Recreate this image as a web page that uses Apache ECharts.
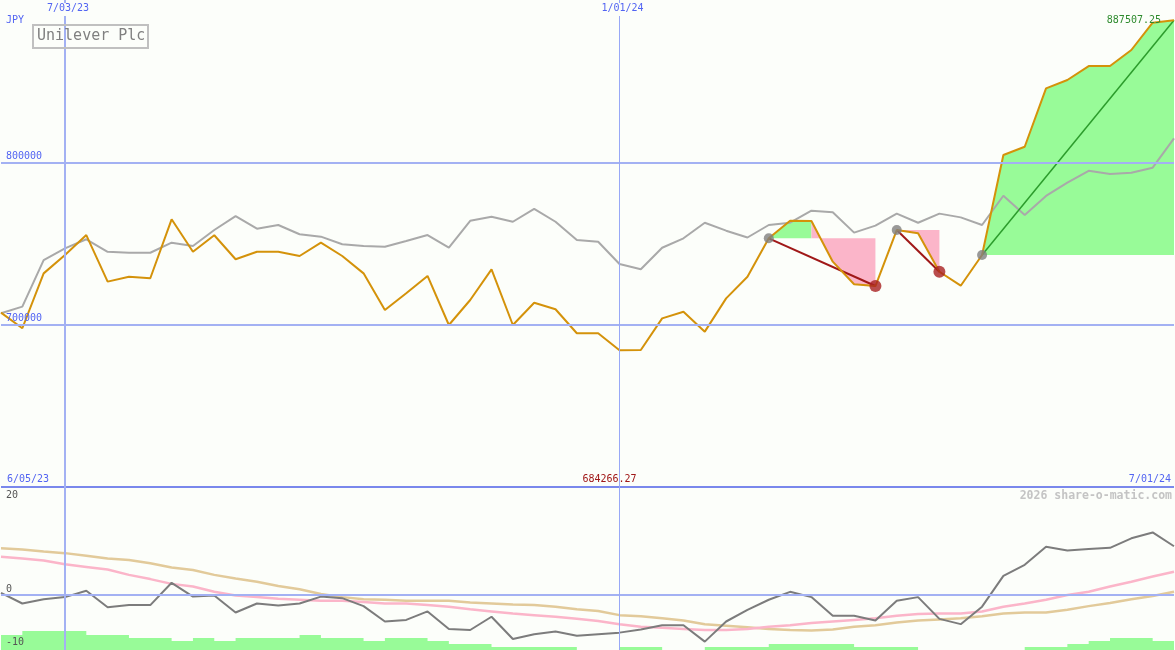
<!DOCTYPE html>
<html><head><meta charset="utf-8">
<script src="https://cdn.jsdelivr.net/npm/echarts@6/dist/echarts.min.js"></script>
<style>html,body{margin:0;padding:0;background:#fcfefa}#c{width:1175px;height:650px}</style>
</head><body><div id="c"></div>
<script>
// ---- data (weekly points, index 0..55) ----
const close = [
707400, 697800, 731600, 742900, 755200, 726500, 729500, 728600, 764900, 744900,
755100, 740300, 744900, 744900, 742300, 750500, 742300, 731600, 709000, 719300,
730000, 699800, 715200, 734100, 699800, 713500, 709500, 694700, 694700, 684266.27,
684400, 703900, 708000, 695700, 716200, 729500, 753200, 764000, 763900, 738800,
724900, 723800, 758300, 756300, 732600, 724000, 742900, 804500, 809600, 845600,
850700, 859300, 859300, 869200, 886000, 887507.25];
const trend = [
707000, 711100, 739800, 747000, 752600, 744900, 744300, 744300, 750500, 748500,
758300, 766900, 759100, 761400, 755700, 754200, 749500, 748500, 748000, 751500,
755200, 747400, 764000, 766500, 763400, 771300, 763400, 752200, 751100, 737400,
734100, 747400, 753200, 762800, 757900, 753700, 761400, 762800, 770200, 769200,
756700, 761000, 768400, 762800, 768400, 766100, 761400, 779400, 767600, 779300,
787500, 794800, 792800, 793600, 796700, 814800];
const osc = [
0.4, -1.6, -0.8, -0.4, 0.8, -2.3, -1.9, -1.9, 2.3, -0.3,
-0.1, -3.3, -1.6, -2.0, -1.6, -0.3, -0.6, -2.1, -5.0, -4.7,
-3.1, -6.4, -6.6, -4.1, -8.3, -7.4, -6.9, -7.7, -7.4, -7.1,
-6.5, -5.7, -5.7, -8.8, -5.0, -2.8, -0.9, 0.6, -0.4, -3.9,
-3.9, -4.8, -1.1, -0.4, -4.5, -5.5, -2.2, 3.6, 5.7, 9.1,
8.4, 8.7, 8.9, 10.7, 11.8, 9.2];
const maFast = [
7.2, 6.9, 6.5, 5.8, 5.3, 4.8, 3.8, 3.0, 2.1, 1.6,
0.6, -0.1, -0.4, -0.7, -0.9, -1.1, -1.1, -1.3, -1.6, -1.6,
-1.9, -2.2, -2.7, -3.1, -3.5, -3.8, -4.1, -4.5, -4.9, -5.5,
-6.0, -6.2, -6.4, -6.6, -6.6, -6.4, -6.0, -5.7, -5.3, -5.0,
-4.7, -4.4, -3.9, -3.6, -3.5, -3.5, -3.1, -2.2, -1.6, -0.9,
0.0, 0.6, 1.6, 2.5, 3.5, 4.4];
const maSlow = [
8.8, 8.6, 8.2, 7.9, 7.4, 6.9, 6.6, 6.0, 5.2, 4.7,
3.8, 3.1, 2.5, 1.7, 1.1, 0.2, -0.4, -0.8, -0.9, -1.1,
-1.1, -1.1, -1.4, -1.6, -1.8, -1.9, -2.2, -2.7, -3.0, -3.8,
-4.0, -4.4, -4.8, -5.5, -5.8, -6.1, -6.4, -6.6, -6.7, -6.5,
-6.0, -5.7, -5.2, -4.8, -4.6, -4.4, -4.0, -3.5, -3.3, -3.3,
-2.8, -2.1, -1.5, -0.8, -0.2, 0.6];
const volume = [
5, 6.3, 6.3, 6.3, 5, 5, 4, 4, 3, 4,
3, 4, 4, 4, 5, 4, 4, 3, 4, 4,
3, 2, 2, 1, 1, 1, 1, 0, 0, 1,
1, 0, 0, 1, 1, 1, 2, 2, 2, 2,
1, 1, 1, 0, 0, 0, 0, 0, 1, 1,
2, 3, 4, 4, 3, 3];
const priceTicks = [700000, 800000];
const oscTicks = [20, 0, -10];
const dateTickIdx = [3, 29];
const dateTickLabels = ['7/03/23', '1/01/24'];
const rangeStart = '6/05/23';
const rangeEnd = '7/01/24';
const currency = 'JPY';
const title = 'Unilever Plc';
const trades = [{entry: 36, exit: 41}, {entry: 42, exit: 44}, {entry: 46, exit: null}];
const fills = [
  {from: 36, to: 38, ref: 36, kind: 'gain'},
  {from: 38, to: 41, ref: 36, kind: 'loss'},
  {from: 42, to: 44, ref: 42, kind: 'loss'},
  {from: 46, to: 55, ref: 46, kind: 'gain'}];

// ---- styles ----
const BG = '#fcfefa', GRID = '#a3b1f3', SEP = '#7a88ec', BLUE = '#5264f2';
const GREEN = '#98fb98', PINK = '#fbb5c9', ORANGE = '#d4920a', GRAY = '#a9a9a9';
const MONO = "'DejaVu Sans Mono', monospace";
const N = close.length - 1;

const chart = echarts.init(document.getElementById('c'), null, {renderer: 'canvas'});

const grids = [
  {left: 1, top: 0, width: 1173, height: 487, outerBoundsMode: 'none', containLabel: false},
  {left: 1, top: 489, width: 1173, height: 159, outerBoundsMode: 'none', containLabel: false},
  {left: 1, top: 602, width: 1173, height: 48, outerBoundsMode: 'none', containLabel: false},
  {left: 1, top: 0, width: 1173, height: 650, outerBoundsMode: 'none', containLabel: false}
];
const xAxes = grids.map((g, k) => ({
  gridIndex: k, type: 'value', min: 0, max: N, show: k === 3,
  position: 'top', z: 10,
  axisLine: {show: false}, axisTick: {show: false}, splitLine: {show: false},
  axisLabel: k === 3 ? {
    inside: true, customValues: dateTickIdx, margin: 3,
    formatter: v => dateTickLabels[dateTickIdx.indexOf(v)] || '',
    color: BLUE, fontFamily: MONO, fontSize: 10,
    backgroundColor: BG, padding: [0, 0, 3, 6]
  } : {show: false}
}));
const yAxes = [
  {gridIndex: 0, type: 'value', min: 600000, max: 900000, interval: 100000, z: 10,
   axisLine: {show: false}, axisTick: {show: false}, splitLine: {show: false},
   axisLabel: {inside: true, margin: 5, color: BLUE, fontFamily: MONO, fontSize: 10, lineHeight: 12,
     verticalAlign: 'middle', formatter: v => priceTicks.includes(v) ? v + '\n' : ''}},
  {gridIndex: 1, type: 'value', min: -10, max: 20, interval: 10, z: 10,
   axisLine: {show: false}, axisTick: {show: false}, splitLine: {show: false},
   axisLabel: {inside: true, margin: 5, color: '#555555', fontFamily: MONO, fontSize: 10, lineHeight: 12,
     verticalAlign: 'middle',
     formatter: v => !oscTicks.includes(v) ? '' : (v === Math.max(...oscTicks) ? '\n' + v : v + '\n')}},
  {gridIndex: 2, type: 'value', min: 0, max: 16, show: false},
  {gridIndex: 3, type: 'value', min: 0, max: 1, show: false}
];

const pts = arr => arr.map((v, i) => [i, v]);
const series = [];
// grid lines
series.push({type: 'line', xAxisIndex: 0, yAxisIndex: 0, data: [], z: 0, silent: true,
  markLine: {silent: true, symbol: 'none', label: {show: false}, animation: false,
    data: priceTicks.map(v => ({yAxis: v, lineStyle: {color: GRID, width: 2, type: 'solid'}}))
      .concat([{yAxis: 600000, lineStyle: {color: SEP, width: 2, type: 'solid'}}])}});
series.push({type: 'line', xAxisIndex: 1, yAxisIndex: 1, data: [], z: 0, silent: true,
  markLine: {silent: true, symbol: 'none', label: {show: false}, animation: false,
    data: [{yAxis: 0, lineStyle: {color: GRID, width: 2, type: 'solid'}}]}});
const vWidths = [2, 1];
series.push({type: 'line', xAxisIndex: 3, yAxisIndex: 3, data: [], z: 0, silent: true,
  markLine: {silent: true, symbol: 'none', label: {show: false}, animation: false,
    data: dateTickIdx.map((v, k) => ({xAxis: v, lineStyle: {color: k ? '#98a8f6' : GRID, width: vWidths[k], type: 'solid'}}))}});

// profit / loss fills: area between the price line and the entry level
series.push({
  type: 'custom', xAxisIndex: 0, yAxisIndex: 0, z: 1, silent: true, clip: false,
  data: fills.map((f, k) => [f.from, close[f.ref]]),
  renderItem: (params, api) => {
    const f = fills[params.dataIndex];
    const lvl = close[f.ref];
    const poly = [];
    for (let i = f.from; i <= f.to; i++) poly.push(api.coord([i, close[i]]));
    poly.push(api.coord([f.to, lvl]));
    poly.push(api.coord([f.from, lvl]));
    return {type: 'polygon', shape: {points: poly},
      style: {fill: f.kind === 'gain' ? GREEN : PINK, stroke: null}};
  }
});

// trend line
series.push({type: 'line', xAxisIndex: 0, yAxisIndex: 0, data: pts(trend), symbol: 'none',
  lineStyle: {color: GRAY, width: 2}, z: 2, silent: true});
// trade lines
trades.forEach(t => {
  const end = t.exit === null ? N : t.exit;
  series.push({type: 'line', xAxisIndex: 0, yAxisIndex: 0, symbol: 'none', silent: true, z: 3,
    data: [[t.entry, close[t.entry]], [end, close[end]]],
    lineStyle: {color: t.exit === null ? '#2c9c2c' : '#a01818', width: t.exit === null ? 1.5 : 2}});
});
// price line
series.push({type: 'line', xAxisIndex: 0, yAxisIndex: 0, data: pts(close), symbol: 'none',
  lineStyle: {color: ORANGE, width: 2}, z: 4, silent: true});
// markers
series.push({type: 'scatter', xAxisIndex: 0, yAxisIndex: 0, symbolSize: 10, z: 5, silent: true,
  itemStyle: {color: '#808080'}, data: trades.map(t => [t.entry, close[t.entry]])});
series.push({type: 'scatter', xAxisIndex: 0, yAxisIndex: 0, symbolSize: 12, z: 5, silent: true,
  itemStyle: {color: '#a82020'}, data: trades.filter(t => t.exit !== null).map(t => [t.exit, close[t.exit]])});

// lower panel
series.push({type: 'line', xAxisIndex: 1, yAxisIndex: 1, data: pts(maSlow), symbol: 'none',
  lineStyle: {color: '#e2ca9a', width: 2.5}, z: 2, silent: true});
series.push({type: 'line', xAxisIndex: 1, yAxisIndex: 1, data: pts(maFast), symbol: 'none',
  lineStyle: {color: '#fbb5c9', width: 2.5}, z: 2, silent: true});
series.push({type: 'line', xAxisIndex: 1, yAxisIndex: 1, data: pts(osc), symbol: 'none',
  lineStyle: {color: '#7c7c7c', width: 2}, z: 2, silent: true});
series.push({type: 'line', xAxisIndex: 2, yAxisIndex: 2, data: pts(volume), step: 'end', symbol: 'none',
  lineStyle: {width: 0, opacity: 0}, areaStyle: {color: GREEN, opacity: 1}, z: 3, silent: true});

const minVal = Math.min(...close);
const lastVal = close[N];
const txt = (text, x, y, fill, align) => ({type: 'text', x: x, y: y, z: 100, silent: true,
  style: {text: text, fill: fill, font: '10px ' + MONO, align: align, verticalAlign: 'middle'}});

chart.setOption({
  animation: false,
  backgroundColor: BG,
  title: {text: title, left: 33, top: 25, padding: [4, 3, 4, 4], borderWidth: 2, borderColor: '#c0c0c0',
    textStyle: {fontFamily: MONO, fontSize: 15, fontWeight: 'normal', color: '#808080'}},
  grid: grids, xAxis: xAxes, yAxis: yAxes, series: series,
  graphic: [
    txt(currency, 6, 20, BLUE, 'left'),
    txt(rangeStart, 7, 479, BLUE, 'left'),
    txt(rangeEnd, 1171, 479, BLUE, 'right'),
    txt(minVal.toFixed(2), 609.5, 479, '#a01818', 'center'),
    txt(lastVal.toFixed(2), 1161, 20, '#2e8b2e', 'right'),
    {type: 'text', x: 1172, y: 496, z: 100, silent: true,
     style: {text: '2026 share-o-matic.com', fill: '#c4c4c4', font: 'bold 11.5px ' + MONO, align: 'right', verticalAlign: 'middle'}}
  ]
});
</script></body></html>
